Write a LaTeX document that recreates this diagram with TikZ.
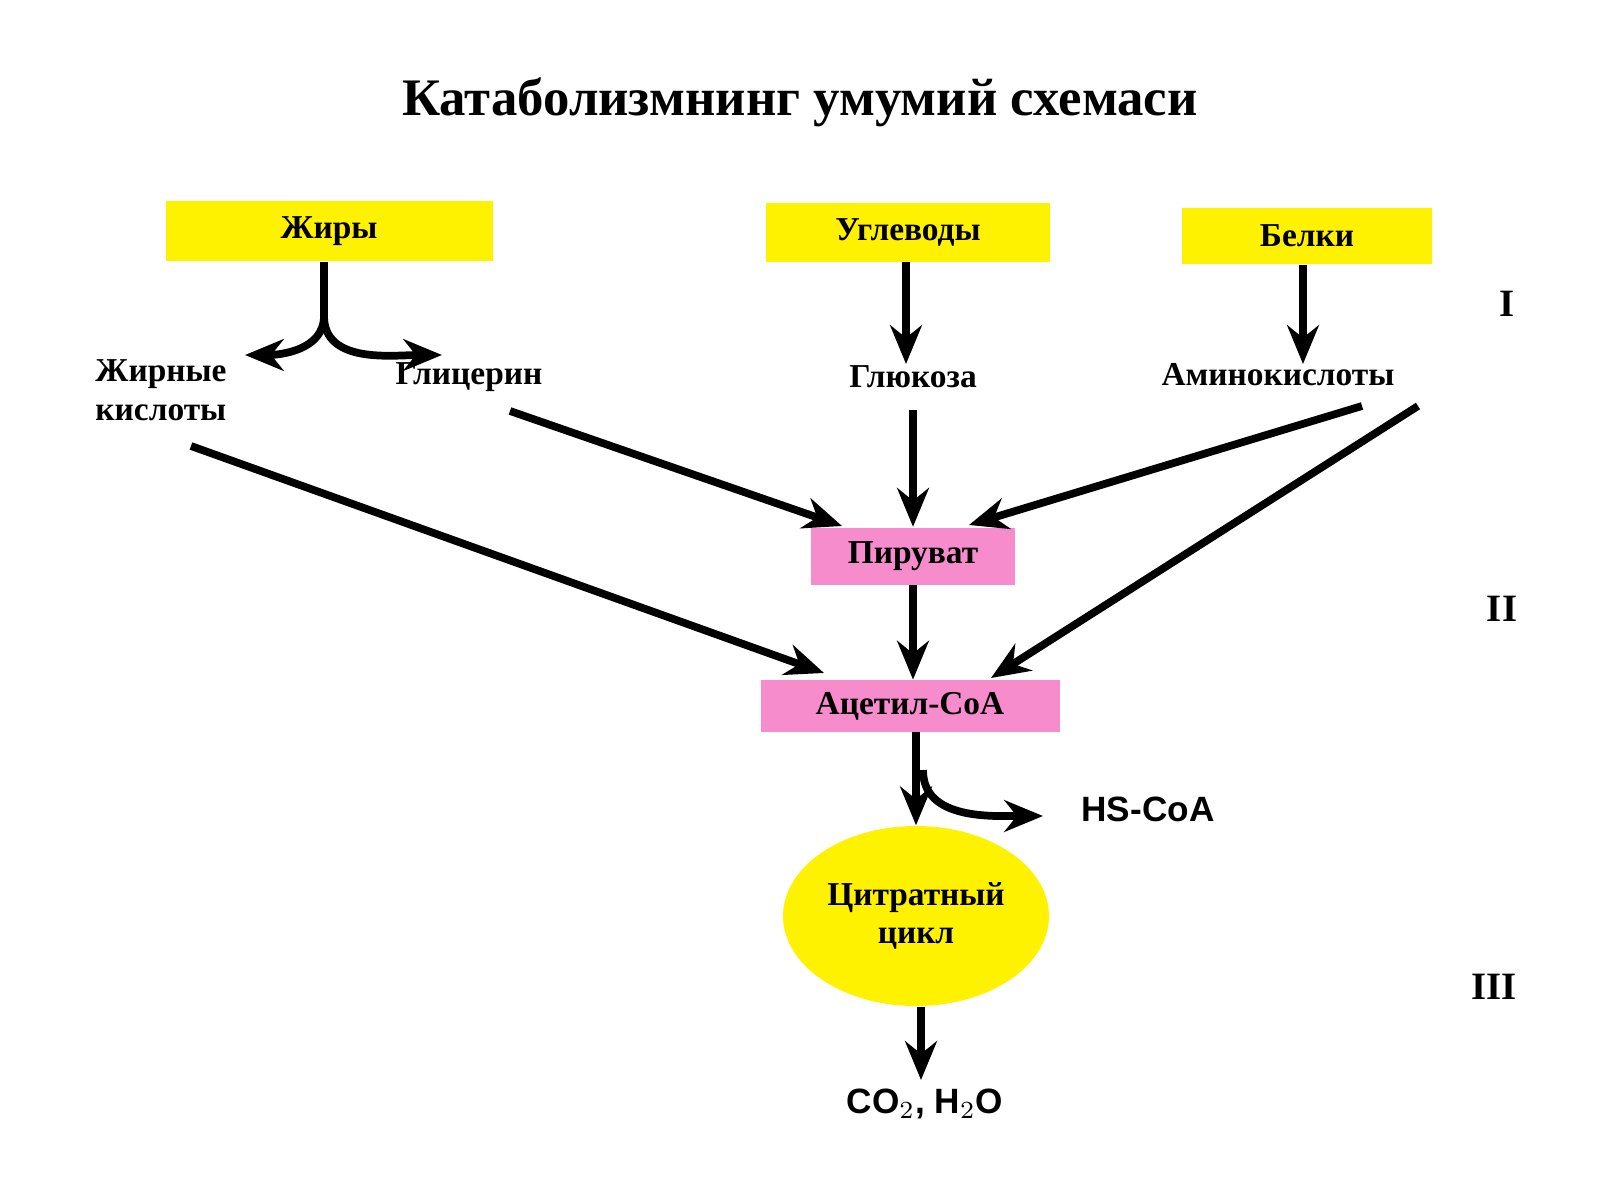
\documentclass[tikz,border=0pt]{standalone}
\usepackage{fontspec}
\setmainfont{Liberation Serif}
\setsansfont{Liberation Sans}
\usetikzlibrary{arrows.meta,shapes.geometric}
\begin{document}
\begin{tikzpicture}[x=0.01cm,y=-0.01cm,
  lbl/.style={font=\fontsize{9.5}{11}\selectfont\bfseries,align=center,inner sep=1pt},
  ybox/.style={fill=yellow,draw=none,font=\fontsize{9.5}{11}\selectfont\bfseries},
  pbox/.style={fill=magenta!45,draw=none,font=\fontsize{9.5}{11}\selectfont\bfseries},
  arr/.style={line width=2.2pt,-{Stealth[length=11pt,width=9pt]}},
  ln/.style={line width=2.2pt}]
\useasboundingbox (0,0) rectangle (1600,1200);
\node[font=\fontsize{15}{18}\selectfont\bfseries] (title) at (800,102) {Катаболизмнинг умумий схемаси};
\node[ybox,minimum width=327*0.01cm,minimum height=60*0.01cm] (fat) at (329,231) {Жиры};
\node[ybox,minimum width=284*0.01cm,minimum height=59*0.01cm] (carb) at (908,232) {Углеводы};
\node[ybox,minimum width=250*0.01cm,minimum height=56*0.01cm] (prot) at (1307,236) {Белки};
\node[pbox,minimum width=204*0.01cm,minimum height=57*0.01cm] (pyr) at (913,556) {Пируват};
\node[pbox,minimum width=299*0.01cm,minimum height=51*0.01cm] (acoa) at (910,706) {Ацетил-CoA};
\node[ellipse,fill=yellow,minimum width=266*0.01cm,minimum height=180*0.01cm,lbl,font=\fontsize{9.5}{11}\selectfont\bfseries] (cyc) at (916,916) {Цитратный\\цикл};
\node[lbl,align=left] (fa) at (161,390) {Жирные\\кислоты};
\node[lbl] (gly) at (469,377) {Глицерин};
\node[lbl] (glu) at (913,377) {Глюкоза};
\node[lbl] (aa) at (1278,375) {Аминокислоты};
\node[font=\fontsize{10}{12}\selectfont\sffamily\bfseries] (hs) at (1148,809) {HS-CoA};
\node[font=\fontsize{10}{12}\selectfont\sffamily\bfseries] (co2) at (925,1104) {CO$_2$, H$_2$O};
\node[font=\fontsize{11}{12}\selectfont\bfseries] (r1) at (1507,304) {I};
\node[font=\fontsize{11}{12}\selectfont\bfseries] (r2) at (1502,609) {II};
\node[font=\fontsize{11}{12}\selectfont\bfseries] (r3) at (1494,987) {III};
\coordinate (br) at (324,316);
\draw[ln] (fat.south -| br) -- (br);
\draw[arr] (br) to[out=-90,in=0] (245,355);
\draw[arr] (br) to[out=-90,in=180] (442,355);
\draw[arr] (carb.south -| 906,0) -- (906,364);
\draw[arr] (prot.south -| 1303,0) -- (1303,364);
\draw[arr] (913,410) -- (pyr.north);
\draw[arr] (510,411) -- (842,526);
\draw[arr] (1362,406) -- (969,525);
\draw[arr] (1418,406) -- (991,678);
\draw[arr] (191,446) -- (824,673);
\draw[arr] (pyr.south) -- (acoa.north -| pyr.south);
\draw[arr] (acoa.south -| 916,0) -- (cyc.north -| 916,0);
\draw[arr] (923,770) to[out=-90,in=180] (1043,816);
\draw[arr] (cyc.south -| 921,0) -- (921,1080);
\end{tikzpicture}
\end{document}
